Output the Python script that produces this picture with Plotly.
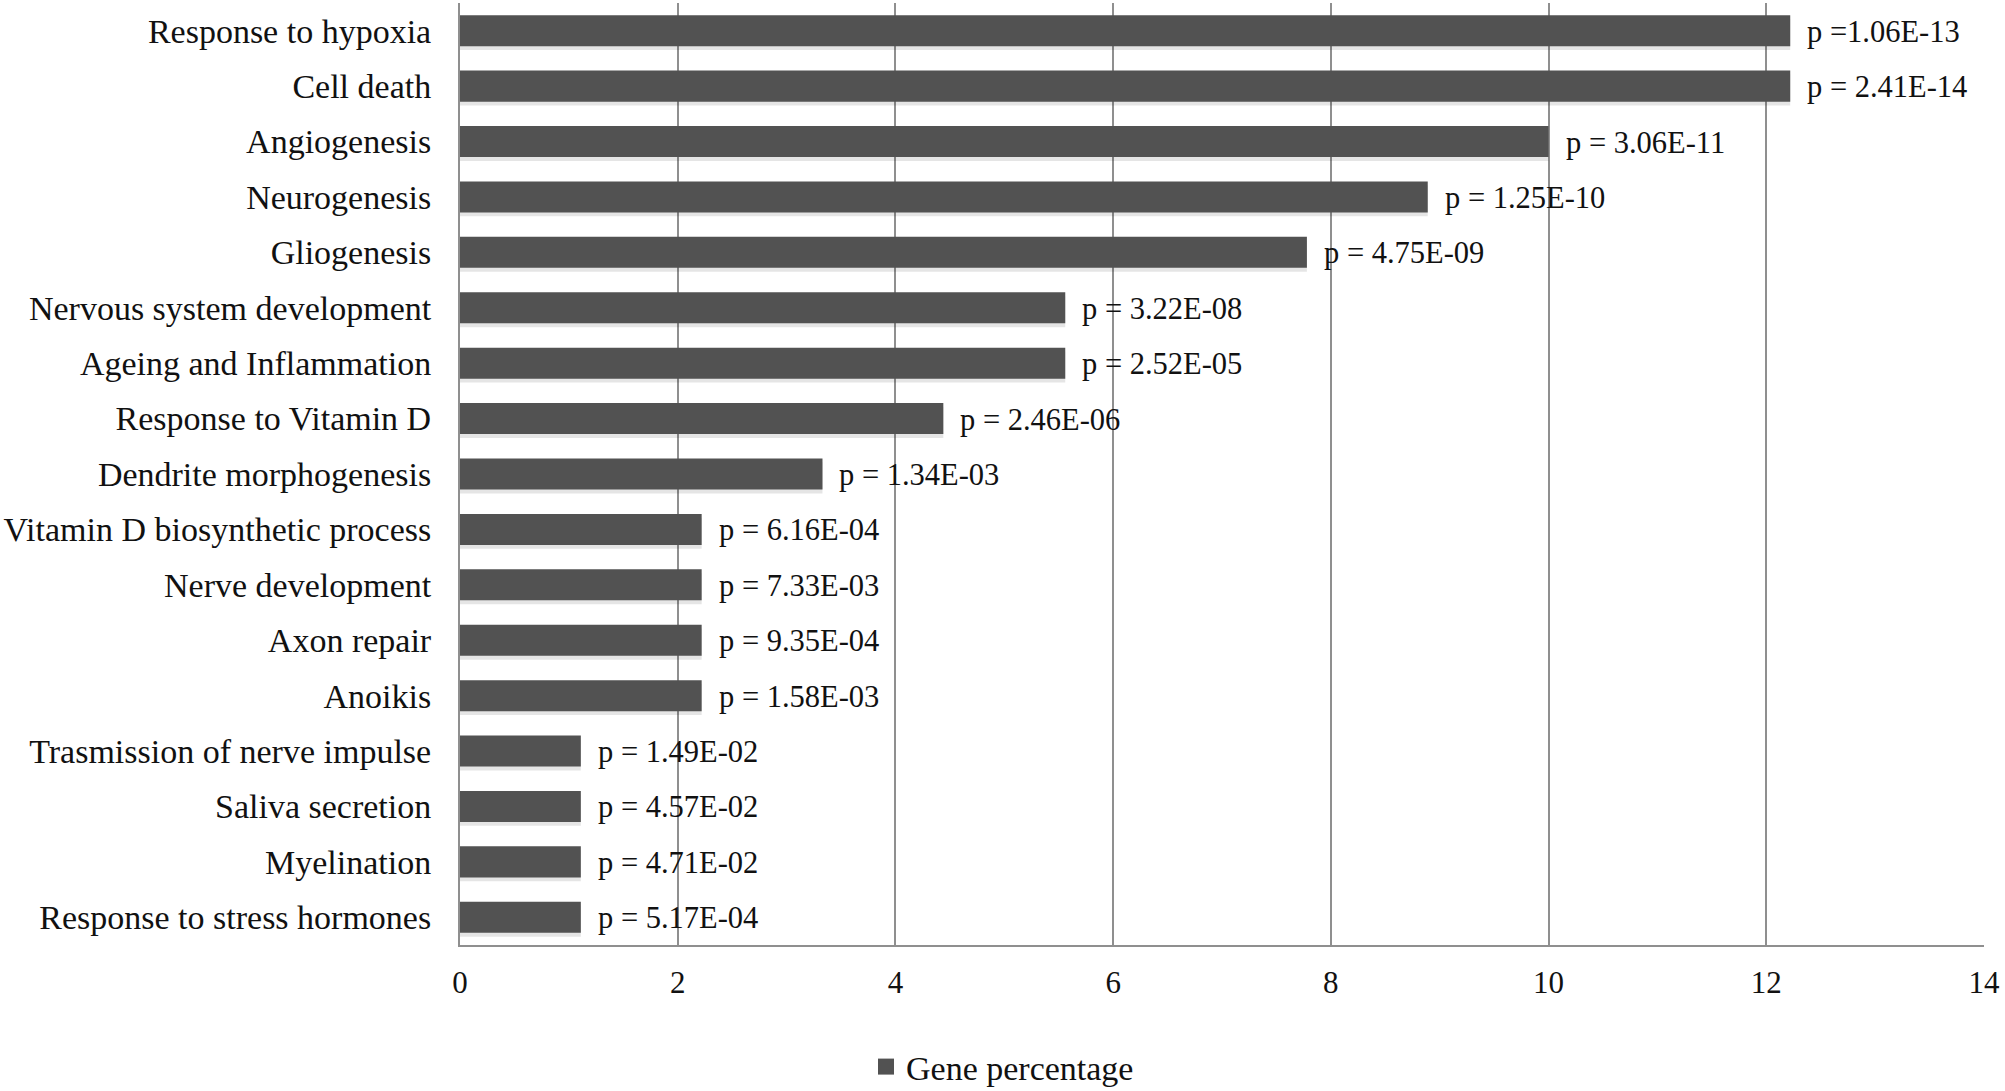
import plotly.graph_objects as go

# GO terms, top to bottom as in the figure
terms = [
    "Response to hypoxia", "Cell death", "Angiogenesis", "Neurogenesis",
    "Gliogenesis", "Nervous system development", "Ageing and Inflammation",
    "Response to Vitamin D", "Dendrite morphogenesis",
    "Vitamin D biosynthetic process", "Nerve development", "Axon repair",
    "Anoikis", "Trasmission of nerve impulse", "Saliva secretion",
    "Myelination", "Response to stress hormones",
]
gene_pct = [12.22, 12.22, 10.0, 8.89, 7.78, 5.56, 5.56, 4.44, 3.33,
            2.22, 2.22, 2.22, 2.22, 1.11, 1.11, 1.11, 1.11]
p_labels = [
    "p =1.06E-13", "p = 2.41E-14", "p = 3.06E-11", "p = 1.25E-10",
    "p = 4.75E-09", "p = 3.22E-08", "p = 2.52E-05", "p = 2.46E-06",
    "p = 1.34E-03", "p = 6.16E-04", "p = 7.33E-03", "p = 9.35E-04",
    "p = 1.58E-03", "p = 1.49E-02", "p = 4.57E-02", "p = 4.71E-02",
    "p = 5.17E-04",
]
x_ticks = [0, 2, 4, 6, 8, 10, 12, 14]

FONT = "Liberation Serif, Times New Roman, serif"
GRID = "#8f8f8f"
BAR = "#525252"
BAR_W = 0.56

fig = go.Figure()
# soft drop shadow under the bars (Excel style)
fig.add_trace(go.Bar(
    x=gene_pct, y=terms, orientation="h", width=BAR_W,
    offset=-BAR_W / 2 + 0.07, showlegend=False, hoverinfo="skip",
    marker=dict(color="rgba(0,0,0,0.10)", line=dict(width=0)),
))
fig.add_trace(go.Bar(
    x=gene_pct, y=terms, orientation="h", width=BAR_W,
    offset=-BAR_W / 2, name="Gene percentage", showlegend=False,
    marker=dict(color=BAR, line=dict(width=0)),
))
# legend entry with a bigger square swatch than the bar legend gives
fig.add_trace(go.Scatter(
    x=[None], y=[None], mode="markers", name="Gene percentage",
    marker=dict(symbol="square", size=18, color=BAR),
))

# p-value labels to the right of each bar
for t, v, lab in zip(terms, gene_pct, p_labels):
    fig.add_annotation(x=v, y=t, text=lab, showarrow=False,
                       xanchor="left", xshift=15, yshift=-1,
                       font=dict(family=FONT, size=30.5, color="#111111"))

fig.update_layout(
    width=2005, height=1091,
    margin=dict(l=460, r=21, t=3, b=146, autoexpand=False),
    paper_bgcolor="white", plot_bgcolor="white",
    barmode="overlay",
    font=dict(family=FONT, size=34, color="#111111"),
    showlegend=True,
    legend=dict(orientation="h", x=0.5, xanchor="center", xref="container",
                y=0.022, yanchor="middle", yref="container",
                itemwidth=30, font=dict(family=FONT, size=34)),
)
fig.update_xaxes(range=[0, 14], tickvals=x_ticks, showgrid=True,
                 gridcolor=GRID, gridwidth=1.5, showline=True,
                 linecolor=GRID, linewidth=2, zeroline=False,
                 ticks="", ticklabelstandoff=9, automargin=False,
                 tickfont=dict(family=FONT, size=31))
fig.update_yaxes(autorange="reversed", showgrid=False, showline=True,
                 linecolor=GRID, linewidth=2, ticks="",
                 ticklabelstandoff=20, automargin=False)

# drop the browser's default 8px body margin so the figure sits at (0, 0)
fig.write_html("out.html", config={"displayModeBar": False},
               post_script="document.body.style.margin='0';")
